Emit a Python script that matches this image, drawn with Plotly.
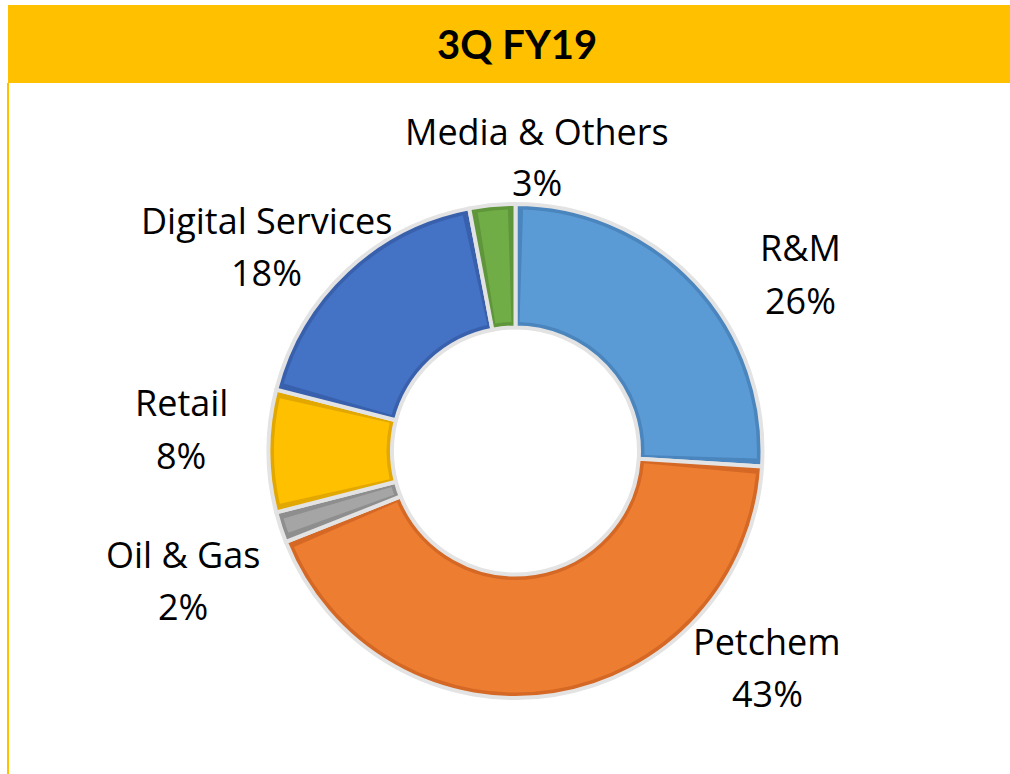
import plotly.graph_objects as go

segments = ["R&M", "Petchem", "Oil & Gas", "Retail", "Digital Services", "Media & Others"]
shares = [26, 43, 2, 8, 18, 3]
colors = ["#5B9BD5", "#ED7D31", "#A5A5A5", "#FFC000", "#4472C4", "#70AD47"]
rim_colors = ["#4A85BD", "#D46824", "#8E8E8E", "#E2A800", "#3860AC", "#5F963B"]
title = "3Q FY19"

W, H = 1010, 774
cx, cy, R = 515.5, 451, 247
hole = 0.5
inset = 5.5          # width of the darker rim, px
gap = 0.5            # angular rim on each side of a slice, in share units

def dom(r):
    return dict(x=[(cx - r) / W, (cx + r) / W], y=[1 - (cy + r) / H, 1 - (cy - r) / H])

fig = go.Figure()
# base ring: darker rim colour + light grey separators
fig.add_trace(go.Pie(
    labels=segments, values=shares, sort=False, direction="clockwise", rotation=0,
    hole=hole, marker=dict(colors=rim_colors, line=dict(color="#E3E3E3", width=4)),
    textinfo="none", domain=dom(R), showlegend=False, hoverinfo="label+percent",
))

# inner fill of every slice, inset from its edges
inner_vals, inner_cols, inner_labels = [], [], []
for name, v, c in zip(segments, shares, colors):
    inner_vals += [gap, v - 2 * gap, gap]
    inner_cols += ["rgba(0,0,0,0)", c, "rgba(0,0,0,0)"]
    inner_labels += [name + " a", name, name + " b"]
r_out = R - inset
r_in = R * hole + inset
fig.add_trace(go.Pie(
    labels=inner_labels, values=inner_vals, sort=False, direction="clockwise", rotation=0,
    hole=r_in / r_out, marker=dict(colors=inner_cols, line=dict(width=0)),
    textinfo="none", domain=dom(r_out), showlegend=False, hoverinfo="skip",
))

# data labels (Excel "best fit" placement)
label_pos = [(800, 274), (767, 667), (183, 580), (181, 429), (266, 246), (537, 157)]
half_gap = 26
annotations = []
for name, v, (lx, ly) in zip(segments, shares, label_pos):
    for txt, yy in ((name, ly - half_gap), (f"{v}%", ly + half_gap)):
        annotations.append(dict(text=txt, xref="paper", yref="paper", x=lx / W, y=1 - yy / H,
                                showarrow=False, xanchor="center", yanchor="middle",
                                font=dict(family="Open Sans", size=36, color="#000000")))
annotations.append(dict(text="<b>" + title + "</b>", xref="paper", yref="paper", x=517 / W, y=1 - 44 / H,
                        showarrow=False, font=dict(family="Lato", size=40, color="#000000"),
                        xanchor="center", yanchor="middle"))

fig.update_layout(
    width=W, height=H,
    margin=dict(l=0, r=0, t=0, b=0),
    paper_bgcolor="white",
    plot_bgcolor="white",
    shapes=[
        dict(type="rect", xref="paper", yref="paper", x0=8 / W, x1=1, y0=1 - 83 / H, y1=1 - 5 / H,
             fillcolor="#FFC000", line=dict(width=0), layer="below"),
        dict(type="line", xref="paper", yref="paper", x0=8 / W, x1=8 / W, y0=0, y1=1 - 83 / H,
             line=dict(color="#FFC000", width=2)),
    ],
    annotations=annotations,
)

fig.write_html("out.html", config={"displayModeBar": False},
               post_script="document.body.style.margin='0';document.body.style.overflow='hidden';")
